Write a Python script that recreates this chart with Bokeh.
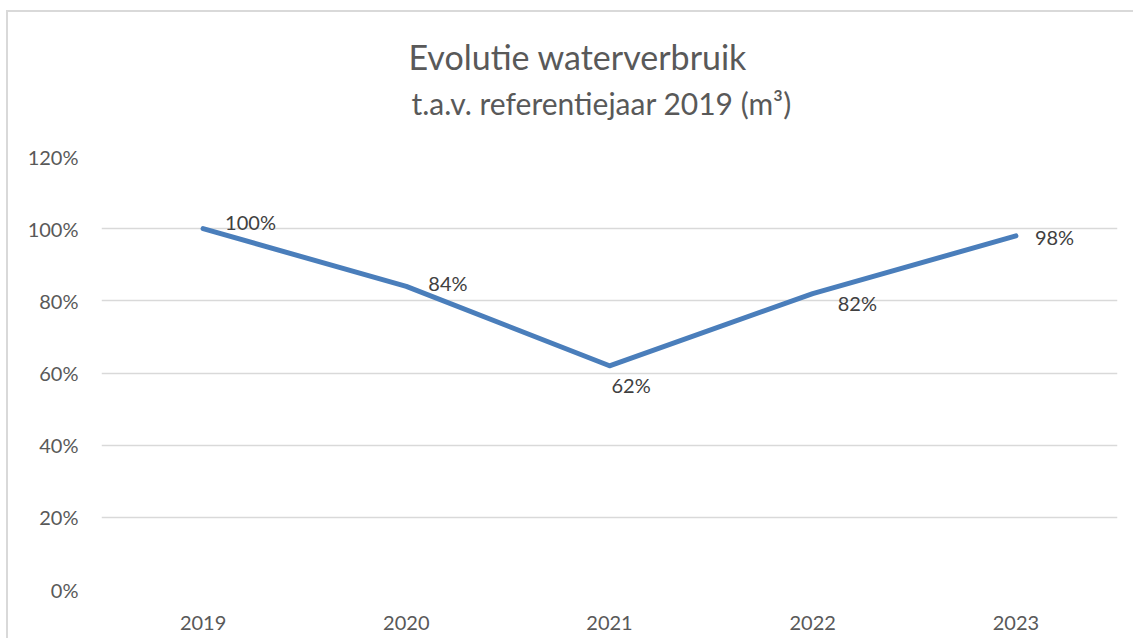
from bokeh.plotting import figure
from bokeh.models import Title, NumeralTickFormatter, FixedTicker, Range1d, ColumnDataSource, FactorRange
from bokeh.core.properties import value
from bokeh.embed import file_html
from bokeh.resources import INLINE

years = ["2019", "2020", "2021", "2022", "2023"]
values = [1.00, 0.84, 0.62, 0.82, 0.98]
labels = ["100%", "84%", "62%", "82%", "98%"]
y_ticks = [0, 0.2, 0.4, 0.6, 0.8, 1.0, 1.2]
title_line1 = "Evolutie waterverbruik"
title_line2 = "t.a.v. referentiejaar 2019 (m³)"

FONT = "Lato"
TXT = "#595959"

p = figure(width=1127, height=628, x_range=FactorRange(*years, range_padding=0),
           y_range=Range1d(0, 1.2), output_backend="svg", toolbar_location=None,
           min_border_left=93, min_border_right=18, min_border_bottom=51, min_border_top=144)
p.outline_line_color = None
p.background_fill_color = "white"
p.border_fill_color = "white"
p.styles = {"border-left": "2px solid #d9d9d9", "border-top": "2px solid #d9d9d9",
            "margin-left": "6px", "margin-top": "10px"}

# titles (added bottom-up)
p.add_layout(Title(text=" ", text_font_size="14px"), "above")
p.add_layout(Title(text=title_line2, align="left", text_font=FONT, text_font_size="30px",
                   text_font_style="normal", text_color=TXT, standoff=16, offset=310), "above")
p.add_layout(Title(text=title_line1, align="left", text_font=FONT, text_font_size="34px",
                   text_font_style="normal", text_color=TXT, standoff=-4, offset=307), "above")

p.yaxis.ticker = FixedTicker(ticks=y_ticks)
p.yaxis.formatter = NumeralTickFormatter(format="0%")
for ax in (p.xaxis, p.yaxis):
    ax.axis_line_color = None
    ax.major_tick_line_color = None
    ax.minor_tick_line_color = None
    ax.major_label_text_font = FONT
    ax.major_label_text_font_size = "20px"
    ax.major_label_text_color = TXT
p.yaxis.major_label_standoff = 17
p.xaxis.major_label_standoff = 20
p.xgrid.grid_line_color = None
p.ygrid.grid_line_color = "#d9d9d9"
p.ygrid.grid_line_width = 1.5

src = ColumnDataSource(dict(x=years, y=values, lab=labels,
                            xo=[22, 22, 2, 25, 19], yo=[-7, -3, 19, 9, 1]))
p.line("x", "y", source=src, line_color="#4A7EBB", line_width=5, line_cap="round", line_join="round")
p.text("x", "y", text="lab", source=src, x_offset="xo", y_offset="yo",
       text_font=value(FONT), text_font_size="20px", text_color="#404040",
       text_baseline="middle", text_align="left")

open("out.html", "w").write(file_html(p, INLINE))
